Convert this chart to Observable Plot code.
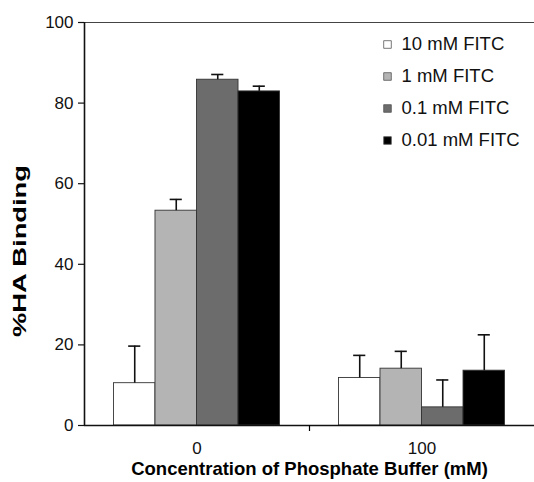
<!DOCTYPE html>
<html>
<head>
<meta charset="utf-8">
<script src="https://cdn.jsdelivr.net/npm/d3@7"></script>
<script src="https://cdn.jsdelivr.net/npm/@observablehq/plot@0.6"></script>
<style>
  html, body { margin: 0; padding: 0; background: #fff; }
  #chart svg { font-family: "Liberation Sans", Arial, sans-serif; }
</style>
</head>
<body>
<div id="chart"></div>
<script>
// ---- data ----
const categories = ["0", "100"];
const series = ["10 mM FITC", "1 mM FITC", "0.1 mM FITC", "0.01 mM FITC"];
const colors = ["#ffffff", "#b4b4b4", "#6c6c6c", "#000000"];
const means0 = [10.5, 53.3, 85.8, 82.9];
const errors0 = [9.2, 2.8, 1.3, 1.3];
const means100 = [11.8, 14.1, 4.5, 13.6];
const errors100 = [5.6, 4.3, 6.8, 8.9];
const yTicks = [0, 20, 40, 60, 80, 100];

// ---- table ----
const means = [means0, means100];
const errs = [errors0, errors100];
const rows = [];
categories.forEach((c, ci) => series.forEach((s, si) => {
  rows.push({ci, si, category: c, series: s, value: means[ci][si], err: errs[ci][si]});
}));

const groupOffset = 0.131, barW = 0.1845, capHalf = 0.027;
const x1 = d => d.ci + groupOffset + d.si * barW;
const x2 = d => x1(d) + barW;
const xc = d => x1(d) + barW / 2;

const font = "Liberation Sans, Arial, sans-serif";

const legendMarks = series.flatMap((s, i) => [
  Plot.dot([s], {frameAnchor: "top-left", symbol: "square", r: 4.3, fill: colors[i],
    stroke: "#555", strokeWidth: 0.8, dx: 303, dy: 22 + i * 32}),
  Plot.text([s], {frameAnchor: "top-left", text: d => d, textAnchor: "start", lineAnchor: "middle",
    fontSize: 18.5, fill: "#111", dx: 317, dy: 22 + i * 32})
]);

const chart = Plot.plot({
  width: 534,
  height: 482,
  marginLeft: 84,
  marginRight: 0,
  marginTop: 22,
  marginBottom: 57,
  style: {fontFamily: font, background: "#fff"},
  x: {domain: [0, 2], axis: null},
  y: {domain: [0, 100], axis: null},
  color: {domain: series, range: colors},
  marks: [
    // frame: top and right (light)
    Plot.ruleY([100], {stroke: "#444", strokeWidth: 1.2}),
    Plot.ruleX([2], {stroke: "#ccc", strokeWidth: 1}),
    // bars
    Plot.rect(rows, {x1, x2, y1: 0, y2: "value", fill: "series", stroke: "#333", strokeWidth: 0.9}),
    // error bars
    Plot.ruleX(rows, {x: xc, y1: "value", y2: d => d.value + d.err, stroke: "#111", strokeWidth: 1.6}),
    Plot.ruleY(rows, {y: d => d.value + d.err, x1: d => xc(d) - capHalf, x2: d => xc(d) + capHalf, stroke: "#111", strokeWidth: 1.6}),
    // axes lines
    Plot.ruleX([0], {stroke: "#111", strokeWidth: 1.6}),
    Plot.ruleY([0], {stroke: "#111", strokeWidth: 1.6}),
    // y axis
    Plot.axisY({ticks: yTicks, tickSize: 6, tickPadding: 5, fontSize: 17, label: null, color: "#111", strokeWidth: 1.2}),
    // x axis: separator tick and category labels
    Plot.axisX({ticks: [1], tickSize: 6, tickFormat: () => "", label: null, strokeWidth: 1.2}),
    Plot.axisX({ticks: [0.5, 1.5], tickSize: 0, tickPadding: 16, fontSize: 17,
      tickFormat: d => categories[Math.floor(d)], label: null, color: "#111"}),
    // titles
    Plot.text(["Concentration of Phosphate Buffer (mM)"], {frameAnchor: "bottom", text: d => d,
      fontSize: 18.5, fontWeight: "bold", fill: "#000", dy: 49}),
    Plot.text(["%HA Binding"], {frameAnchor: "left", text: d => d, rotate: -90, textAnchor: "middle",
      lineAnchor: "middle", fontSize: 18, fontWeight: "bold", fill: "#000", dx: -64, dy: 27,
      className: "ytitle"}),
    ...legendMarks
  ]
});
// the reference's y title is drawn stretched along its length
d3.select(chart).selectAll(".ytitle text")
  .attr("textLength", 172).attr("lengthAdjust", "spacingAndGlyphs");
document.getElementById("chart").appendChild(chart);
</script>
</body>
</html>
